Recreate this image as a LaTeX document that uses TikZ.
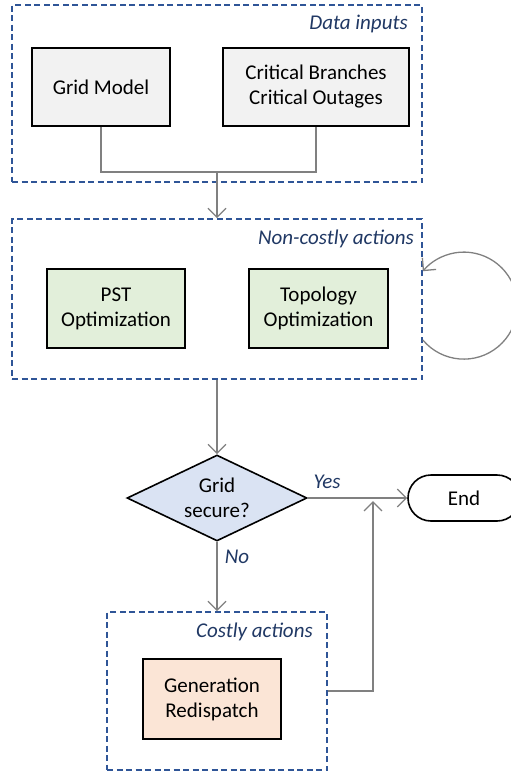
\documentclass[tikz,border=0pt]{standalone}
\usepackage{fontspec}
\setmainfont{Carlito}
\usetikzlibrary{shapes.geometric,arrows.meta,positioning}
\definecolor{frameblue}{RGB}{47,85,151}
\definecolor{labelblue}{RGB}{32,56,100}
\definecolor{linegray}{RGB}{128,128,128}
\definecolor{boxgray}{RGB}{242,242,242}
\definecolor{boxgreen}{RGB}{226,239,218}
\definecolor{boxblue}{RGB}{218,227,243}
\definecolor{boxorange}{RGB}{251,229,214}
\newcommand{\figfont}{\fontsize{21}{25}\selectfont}

\tikzset{
  stepbox/.style={draw=black,line width=1.6pt,minimum height=79,inner sep=0pt,align=center},
  group/.style={draw=frameblue,line width=1.7pt,dash pattern=on 6pt off 3.5pt,inner sep=0pt},
  tag/.style={text=labelblue,font=\figfont\itshape,inner sep=0pt},
  flow/.style={draw=linegray,line width=1.3pt},
  tip/.style={-{Straight Barb[length=9pt,width=18pt]}}
}

\begin{document}
\begin{tikzpicture}[x=1pt,y=1pt,font=\figfont]
\useasboundingbox (0,0) rectangle (511,-774);

% data inputs
\node [group,minimum width=410,minimum height=177] (datain) at (217,-93.5) {};
\node [tag,anchor=east] (datatag) at (408,-24) {Data inputs};
\node [stepbox,fill=boxgray,minimum width=138,minimum height=78] (grid) at (101,-87) {Grid Model};
\node [stepbox,fill=boxgray,minimum width=186,minimum height=78] (crit) at (316,-87) {Critical Branches\\Critical Outages};

\coordinate (join) at (217,-172);
\draw [flow] (grid.south) |- (join) -| (crit.south);

% non-costly actions
\node [group,minimum width=410,minimum height=160] (noncost) at (217,-299) {};
\node [tag,anchor=east] (noncosttag) at (414,-239) {Non-costly actions};
\node [stepbox,fill=boxgreen,minimum width=138] (pst) at (116,-308.5) {PST\\Optimization};
\node [stepbox,fill=boxgreen,minimum width=139] (topo) at (318.5,-308.5) {Topology\\Optimization};

\draw [flow,tip] (join) -- (noncost.north);
\draw [flow,tip] ([yshift=-41]noncost.east) arc [start angle=220,end angle=500,radius=53.5];

% check
\node [diamond,draw=black,line width=1.6pt,fill=boxblue,minimum width=180,minimum height=86,aspect=2.1,inner sep=0pt,align=center] (secure) at (217,-498) {Grid\\secure?};
\node [stepbox,fill=white,rounded corners=23,minimum width=112,minimum height=46] (endn) at (464,-498) {End};
\draw [flow,tip] (noncost.south) -- (secure.north);

\node [tag] (yes) at (327,-482) {Yes};
\node [tag] (no) at (237,-557) {No};
\draw [flow,tip] (secure.east) -- (endn.west);

% costly actions
\node [group,minimum width=220,minimum height=158] (costly) at (217,-691) {};
\node [tag,anchor=east] (costlytag) at (313,-632) {Costly actions};
\node [stepbox,fill=boxorange,minimum width=138,minimum height=80] (gen) at (212,-699) {Generation\\Redispatch};

\draw [flow,tip] (secure.south) -- (costly.north);
\coordinate (merge) at (373,-501);
\draw [flow,tip] (costly.east) -| (merge);

\end{tikzpicture}
\end{document}
